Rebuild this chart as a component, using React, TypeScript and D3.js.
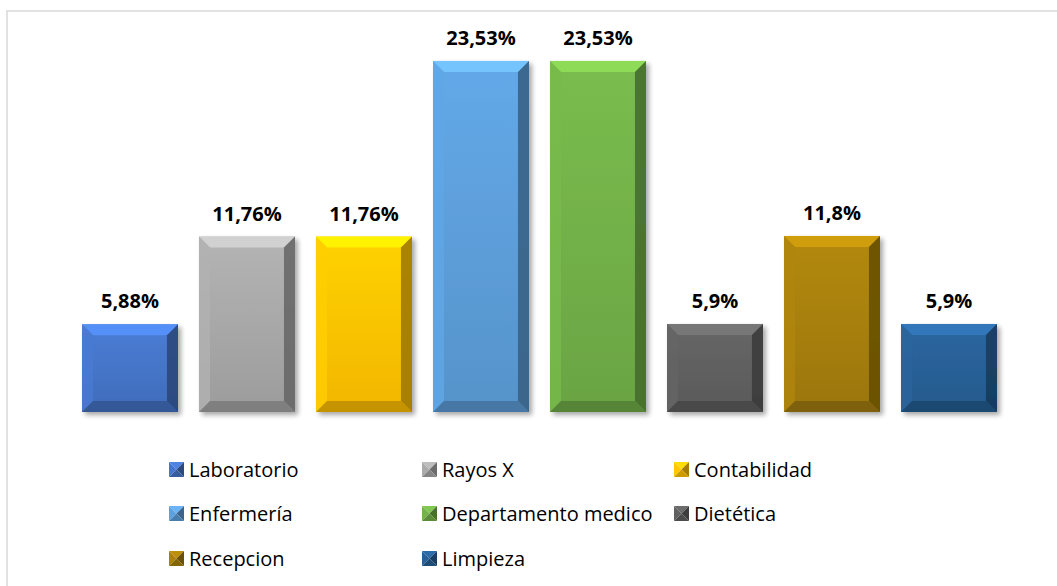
import React, { useRef, useEffect } from "react";
import * as d3 from "d3";

// Datos del gráfico
const categories = [
  "Laboratorio",
  "Rayos X",
  "Contabilidad",
  "Enfermería",
  "Departamento medico",
  "Dietética",
  "Recepcion",
  "Limpieza",
];
const values = [5.88, 11.76, 11.76, 23.53, 23.53, 5.9, 11.8, 5.9];
const labels = ["5,88%", "11,76%", "11,76%", "23,53%", "23,53%", "5,9%", "11,8%", "5,9%"];
const colors = ["#4472C4", "#A5A5A5", "#FFC000", "#5B9BD5", "#70AD47", "#5E5E5E", "#A47D0A", "#275E93"];

const App = () => {
  const ref = useRef(null);

  useEffect(() => {
    const width = 1057;
    const height = 586;
    const plot = { left: 71.5, right: 1007.5, top: 39, bottom: 412 };

    d3.select(ref.current).selectAll("*").remove();
    const svg = d3.select(ref.current);

    // marco del gráfico
    svg
      .append("rect")
      .attr("x", 7)
      .attr("y", 11)
      .attr("width", width + 10)
      .attr("height", height + 10)
      .attr("fill", "#fff")
      .attr("stroke", "#d9d9d9")
      .attr("stroke-width", 1.5);

    const x = d3
      .scaleBand()
      .domain(categories)
      .range([plot.left, plot.right])
      .paddingInner(0.18)
      .paddingOuter(0.09);

    const y = d3.scaleLinear().domain([0, 25]).range([plot.bottom, plot.top]);

    const defs = svg.append("defs");
    const shadow = defs
      .append("filter")
      .attr("id", "sh")
      .attr("x", "-20%")
      .attr("y", "-20%")
      .attr("width", "150%")
      .attr("height", "150%");
    shadow.append("feGaussianBlur").attr("in", "SourceAlpha").attr("stdDeviation", 2.5);
    shadow.append("feOffset").attr("dx", 3).attr("dy", 3).attr("result", "b");
    shadow
      .append("feComponentTransfer")
      .append("feFuncA")
      .attr("type", "linear")
      .attr("slope", 0.35);
    const m = shadow.append("feMerge");
    m.append("feMergeNode");
    m.append("feMergeNode").attr("in", "SourceGraphic");

    colors.forEach((c, i) => {
      const g = defs
        .append("linearGradient")
        .attr("id", "g" + i)
        .attr("x1", 0)
        .attr("y1", 0)
        .attr("x2", 0)
        .attr("y2", 1);
      g.append("stop").attr("offset", "0%").attr("stop-color", d3.color(c).brighter(0.25));
      g.append("stop").attr("offset", "100%").attr("stop-color", d3.color(c).darker(0.15));
    });

    const bev = 11;
    const bars = svg
      .append("g")
      .selectAll("g")
      .data(categories)
      .join("g")
      .attr("filter", "url(#sh)");

    bars.each(function (d, i) {
      const g = d3.select(this);
      const x0 = x(d);
      const x1 = x0 + x.bandwidth();
      const y0 = y(values[i]);
      const y1 = y(0);
      const c = d3.color(colors[i]);
      g.append("rect")
        .attr("x", x0)
        .attr("y", y0)
        .attr("width", x1 - x0)
        .attr("height", y1 - y0)
        .attr("fill", `url(#g${i})`);
      const poly = (pts, fill, op) =>
        g
          .append("path")
          .attr("d", "M" + pts.map((p) => p.join(",")).join("L") + "Z")
          .attr("fill", fill)
          .attr("opacity", op);
      // arriba
      poly([[x0, y0], [x1, y0], [x1 - bev, y0 + bev], [x0 + bev, y0 + bev]], c.brighter(0.7), 0.9);
      // izquierda
      poly([[x0, y0], [x0 + bev, y0 + bev], [x0 + bev, y1 - bev], [x0, y1]], c.brighter(0.2), 0.8);
      // derecha
      poly([[x1, y0], [x1, y1], [x1 - bev, y1 - bev], [x1 - bev, y0 + bev]], c.darker(1.4), 0.85);
      // abajo
      poly([[x0, y1], [x0 + bev, y1 - bev], [x1 - bev, y1 - bev], [x1, y1]], c.darker(0.9), 0.8);
    });

    // etiquetas de valor
    svg
      .append("g")
      .attr("text-anchor", "middle")
      .attr("font-family", "'Open Sans', sans-serif")
      .attr("font-weight", "bold")
      .attr("font-size", "20px")
      .attr("fill", "#000")
      .selectAll("text")
      .data(categories)
      .join("text")
      .attr("x", (d) => x(d) + x.bandwidth() / 2)
      .attr("y", (d, i) => y(values[i]) - 16)
      .text((d, i) => labels[i]);

    // leyenda
    const colX = [169, 422, 674];
    const rowY = [462, 506, 551];
    const sq = 15;
    const leg = svg
      .append("g")
      .selectAll("g")
      .data(categories)
      .join("g")
      .attr("transform", (d, i) => `translate(${colX[i % 3]},${rowY[Math.floor(i / 3)]})`);

    leg.each(function (d, i) {
      const g = d3.select(this);
      const c = d3.color(colors[i]);
      const h = sq / 2;
      const tri = (pts, fill) =>
        g
          .append("path")
          .attr("d", "M" + pts.map((p) => p.join(",")).join("L") + "Z")
          .attr("fill", fill);
      tri([[0, 0], [sq, 0], [h, h]], c.brighter(0.4));
      tri([[0, 0], [h, h], [0, sq]], c.brighter(0.1));
      tri([[sq, 0], [sq, sq], [h, h]], c.darker(1.2));
      tri([[0, sq], [h, h], [sq, sq]], c.darker(0.6));
      g.append("text")
        .attr("x", sq + 5)
        .attr("y", sq)
        .attr("font-family", "'Open Sans', sans-serif")
        .attr("font-size", "20px")
        .attr("fill", "#000")
        .text(d);
    });
  }, []);

  return (
    <svg
      ref={ref}
      width={1057}
      height={586}
      style={{ position: "absolute", left: 0, top: 0, background: "#fff" }}
    ></svg>
  );
};

export default App;
